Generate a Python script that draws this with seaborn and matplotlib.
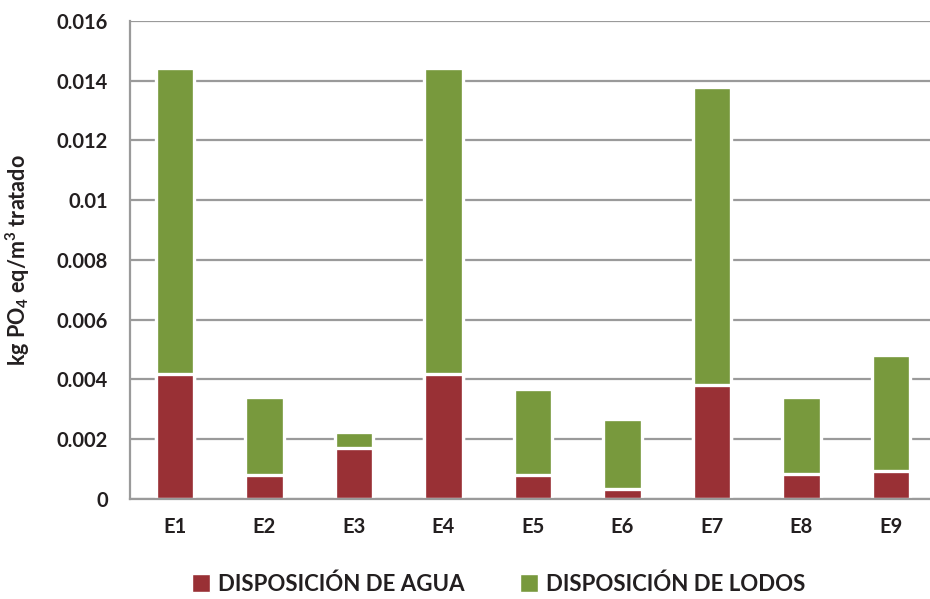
import pandas as pd
import seaborn as sns
import matplotlib.pyplot as plt
from matplotlib.patches import Patch

# Values
escenarios = ['E1', 'E2', 'E3', 'E4', 'E5', 'E6', 'E7', 'E8', 'E9']
agua = [0.00419, 0.00079, 0.00171, 0.00419, 0.00079, 0.00034, 0.00381, 0.00084, 0.00094]
lodos = [0.01023, 0.00262, 0.00053, 0.01023, 0.00289, 0.00234, 0.00997, 0.00257, 0.00388]
yticks = [0, 0.002, 0.004, 0.006, 0.008, 0.01, 0.012, 0.014, 0.016]
ytick_labels = ['0', '0.002', '0.004', '0.006', '0.008', '0.01', '0.012', '0.014', '0.016']

rojo = '#993035'
verde = '#78993d'
gris = '#9a9a9a'
texto = '#231f20'

df = pd.DataFrame({'escenario': escenarios, 'agua': agua, 'lodos': lodos})
df['total'] = df['agua'] + df['lodos']

sns.set_style('white')
plt.rcParams['font.family'] = ['Lato', 'DejaVu Sans']
plt.rcParams['mathtext.fontset'] = 'custom'
plt.rcParams['mathtext.rm'] = 'Lato'
plt.rcParams['mathtext.bf'] = 'Lato:bold'

fig = plt.figure(figsize=(9.3, 5.99), dpi=100)
ax = fig.add_axes([0.14, 0.167, 0.866, 0.798])

# stacked: total (green) first, then water (red) over it
sns.barplot(data=df, x='escenario', y='total', color=verde, width=0.43,
            edgecolor='white', linewidth=2.4, saturation=1, ax=ax)
sns.barplot(data=df, x='escenario', y='agua', color=rojo, width=0.43,
            edgecolor='white', linewidth=2.4, saturation=1, ax=ax)

ax.set_xlim(-0.5, len(escenarios) - 0.5)
ax.set_ylim(0, 0.016)
ax.set_yticks(yticks)
ax.set_yticklabels(ytick_labels)
ax.set_axisbelow(True)
ax.yaxis.grid(True, color=gris, linewidth=1.6)
ax.xaxis.grid(False)

# ticks between categories on the x axis
ax.set_xticks([i + 0.5 for i in range(-1, len(escenarios) - 1)], minor=True)
ax.tick_params(axis='x', which='major', length=0, pad=13)
ax.tick_params(axis='x', which='minor', length=7, width=1.6, color=gris, direction='out')
ax.tick_params(axis='y', length=7, width=1.6, color=gris, direction='out', pad=9)
for lab in ax.get_xticklabels() + ax.get_yticklabels():
    lab.set_fontsize(14.5)
    lab.set_fontweight('bold')
    lab.set_color(texto)

for s in ['top', 'right']:
    ax.spines[s].set_visible(False)
for s in ['left', 'bottom']:
    ax.spines[s].set_color(gris)
    ax.spines[s].set_linewidth(1.6)

ax.set_xlabel('')
ax.set_ylabel(r'kg PO$_\mathbf{4}$ eq/m$^\mathbf{3}$ tratado', fontsize=15.5,
              fontweight='bold', color=texto)
ax.yaxis.set_label_coords(-0.122, 0.5)

handles = [Patch(facecolor=rojo, label='DISPOSICIÓN DE AGUA'),
           Patch(facecolor=verde, label='DISPOSICIÓN DE LODOS')]
fig.legend(handles=handles, loc='center', bbox_to_anchor=(0.536, 0.025), ncol=2,
           frameon=False, prop={'size': 16, 'weight': 'bold'}, labelcolor=texto,
           handlelength=0.82, handleheight=0.82, columnspacing=2.5, handletextpad=0.35)

fig.savefig('out.png', dpi=100)
